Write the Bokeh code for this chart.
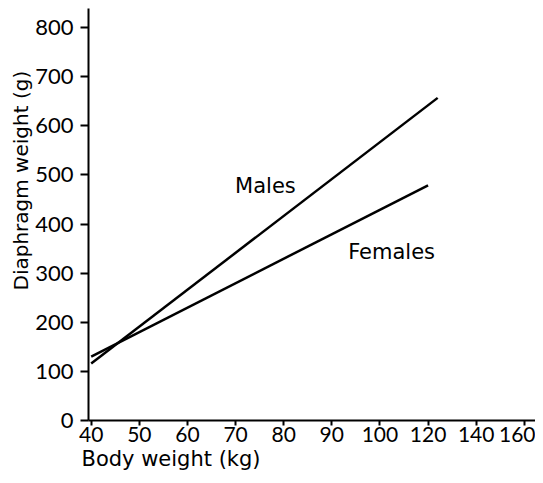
import math
from bokeh.plotting import figure
from bokeh.models import Range1d, FixedTicker, Label, Title
from bokeh.embed import file_html
from bokeh.resources import INLINE

# Data (body weight kg, diaphragm weight g)
male_bw = [40, 124]
male_dw = [116, 657]
female_bw = [40, 120]
female_dw = [130, 479]

x_ticks_bw = [40, 50, 60, 70, 80, 90, 100, 120, 140, 160]
y_ticks = [0, 100, 200, 300, 400, 500, 600, 700, 800]

def pos(bw):
    # axis is broken: step 10 up to 100, step 20 above 100
    return bw if bw <= 100 else 100 + (bw - 100) / 2.0

TICK_FONT = "Lato"
TEXT_FONT = "DejaVu Sans"

p = figure(width=535, height=475, output_backend="svg", toolbar_location=None,
           x_range=Range1d(39.44, 132.33), y_range=Range1d(0, 839),
           min_border_left=88, min_border_right=0, min_border_top=8, min_border_bottom=55)
p.outline_line_color = None
p.border_fill_color = "white"
p.xgrid.visible = False
p.ygrid.visible = False
p.background_fill_color = "white"

p.line([pos(b) for b in male_bw], male_dw, line_color="black", line_width=2.5)
p.line([pos(b) for b in female_bw], female_dw, line_color="black", line_width=2.5)

p.add_layout(Label(x=pos(69.9), y=477, text="Males", text_font=TEXT_FONT, text_font_size="21px",
                   text_color="black", text_baseline="alphabetic"))
p.add_layout(Label(x=pos(93.4), y=344, text="Females", text_font=TEXT_FONT, text_font_size="21px",
                   text_color="black", text_baseline="alphabetic"))

# axis titles
p.add_layout(Title(text="Body weight (kg)", text_font=TEXT_FONT, text_font_size="21px",
                   text_font_style="normal", text_color="black", align="left", offset=-7,
                   standoff=0), "below")
p.add_layout(Title(text="Diaphragm weight (g)", text_font=TEXT_FONT, text_font_size="20px",
                   text_font_style="normal", text_color="black", align="left", offset=130,
                   standoff=0), "left")

xa = p.xaxis[0]
xa.ticker = FixedTicker(ticks=[pos(b) for b in x_ticks_bw])
xa.major_label_overrides = {pos(b): str(b) for b in x_ticks_bw}
ya = p.yaxis[0]
ya.ticker = FixedTicker(ticks=y_ticks)

for ax in (xa, ya):
    ax.axis_line_width = 2
    ax.axis_line_color = "black"
    ax.major_tick_line_width = 2
    ax.major_tick_line_color = "black"
    ax.major_tick_in = 0
    ax.minor_tick_line_color = None
    ax.major_label_text_font = TICK_FONT
    ax.major_label_text_color = "black"
ya.major_label_text_font_size = "22px"
xa.major_label_text_font_size = "21px"
ya.major_tick_out = 8
xa.major_tick_out = 5
ya.major_label_standoff = 7
xa.major_label_standoff = 1

open("out.html", "w").write(file_html(p, INLINE))
